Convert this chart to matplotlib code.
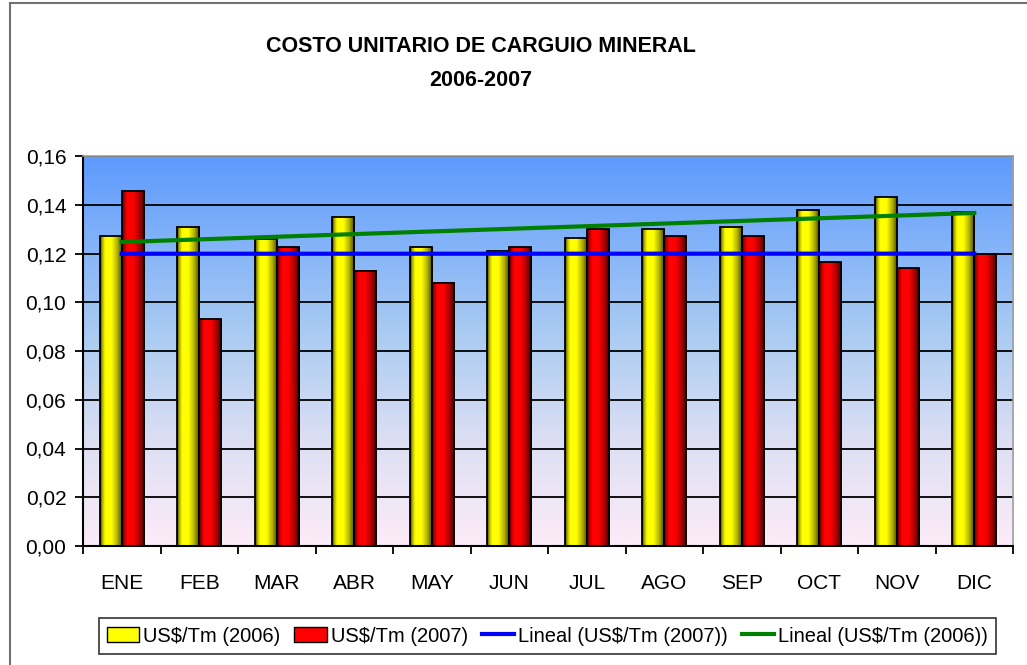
import numpy as np
import matplotlib.pyplot as plt
from matplotlib.patches import Patch
from matplotlib.lines import Line2D
from matplotlib.colors import to_rgb

plt.rcParams['font.family'] = ['Liberation Sans', 'DejaVu Sans']

# valores
meses = ['ENE', 'FEB', 'MAR', 'ABR', 'MAY', 'JUN', 'JUL', 'AGO', 'SEP', 'OCT', 'NOV', 'DIC']
costo_2006 = [0.127, 0.131, 0.126, 0.135, 0.1225, 0.121, 0.1265, 0.130, 0.131, 0.138, 0.143, 0.137]
costo_2007 = [0.1455, 0.093, 0.1225, 0.113, 0.108, 0.1225, 0.130, 0.127, 0.127, 0.1165, 0.114, 0.120]
yticks = [0.00, 0.02, 0.04, 0.06, 0.08, 0.10, 0.12, 0.14, 0.16]


def gradiente(stops, n=64):
    # stops: lista de (pos, color)
    pos = np.array([p for p, _ in stops])
    cols = np.array([to_rgb(c) for _, c in stops])
    t = np.linspace(0, 1, n)
    return np.stack([np.interp(t, pos, cols[:, i]) for i in range(3)], axis=-1)


fig = plt.figure(figsize=(10.27, 6.65), dpi=100)
ax = fig.add_axes([83 / 1027, 119 / 665, 930 / 1027, 390 / 665])

# fondo degradado del area de trazado
fondo = gradiente([(0, '#fcebf8'), (0.25, '#dfe0f4'), (0.55, '#a9cbf2'), (1, '#5e9bfe')])
ax.imshow(fondo[:, None, :], extent=[0, 1, 0, 1], origin='lower', aspect='auto',
          transform=ax.transAxes, zorder=-10, interpolation='bilinear')

x = np.arange(len(meses))
w = 0.285
b06 = ax.bar(x - w / 2, costo_2006, w, facecolor='none', edgecolor='black', lw=1.3, zorder=3)
b07 = ax.bar(x + w / 2, costo_2007, w, facecolor='none', edgecolor='black', lw=1.3, zorder=3)

# sombreado cilindrico de las barras
amarillo = gradiente([(0, '#3c3c00'), (0.1, '#b0b000'), (0.22, '#ffff00'), (0.5, '#ffff00'),
                      (0.75, '#b4b400'), (1, '#404000')])
rojo = gradiente([(0, '#400000'), (0.1, '#b00000'), (0.22, '#ff0000'), (0.5, '#ff0000'),
                  (0.75, '#b00000'), (1, '#400000')])
for barras, grad in ((b06, amarillo), (b07, rojo)):
    for p in barras:
        x0, y0 = p.get_x(), p.get_y()
        ax.imshow(grad[None, :, :], extent=(x0, x0 + p.get_width(), y0, y0 + p.get_height()),
                  aspect='auto', zorder=2.5, interpolation='bilinear')

# lineas de tendencia lineal
c06 = np.polyfit(x, costo_2006, 1)
c07 = np.polyfit(x, costo_2007, 1)
ax.plot(x, np.polyval(c07, x), color='#0000ff', lw=3, zorder=4)
ax.plot(x, np.polyval(c06, x), color='#008000', lw=3, zorder=4)

ax.set_xlim(-0.5, len(meses) - 0.5)
ax.set_ylim(0, 0.16)
ax.set_yticks(yticks)
ax.set_yticklabels([f'{v:.2f}'.replace('.', ',') for v in yticks], fontsize=15)
ax.yaxis.grid(True, color='black', lw=1.3)
ax.set_axisbelow(True)
ax.set_xticks(np.arange(-0.5, len(meses), 1))
ax.set_xticklabels([])
ax.set_xticks(x, minor=True)
ax.set_xticklabels(meses, minor=True, fontsize=15)
ax.tick_params(axis='x', which='major', direction='out', length=6, width=1.3)
ax.tick_params(axis='x', which='minor', length=0, pad=20)
ax.tick_params(axis='y', direction='out', length=6, width=1.3, pad=6)
for s in ('left', 'bottom'):
    ax.spines[s].set_linewidth(1.5)
for s in ('top', 'right'):
    ax.spines[s].set_color('#a0a0a0')
    ax.spines[s].set_linewidth(1.2)

fig.text(0.468, 1 - 46 / 665, 'COSTO UNITARIO DE CARGUIO MINERAL', ha='center', va='center',
         fontsize=15.5, fontweight='bold')
fig.text(0.468, 1 - 80 / 665, '2006-2007', ha='center', va='center', fontsize=15.5, fontweight='bold')

handles = [Patch(facecolor='#ffff00', edgecolor='black'),
           Patch(facecolor='#ff0000', edgecolor='black'),
           Line2D([], [], color='#0000ff', lw=3),
           Line2D([], [], color='#008000', lw=3)]
labels = ['US$/Tm (2006)', 'US$/Tm (2007)', 'Lineal (US$/Tm (2007))', 'Lineal (US$/Tm (2006))']
leg = fig.legend(handles, labels, loc='center', bbox_to_anchor=(0.533, 1 - 636 / 665), ncol=4,
                 fontsize=14.5, frameon=True, fancybox=False, handlelength=1.6,
                 handletextpad=0.2, columnspacing=0.7, borderpad=0.4)
leg.get_frame().set_edgecolor('black')
leg.get_frame().set_linewidth(1.2)

# borde del area del grafico
fig.add_artist(Line2D([10 / 1027, 10 / 1027], [0, 1 - 3 / 665], color='#707070', lw=1.5))
fig.add_artist(Line2D([10 / 1027, 1], [1 - 3 / 665, 1 - 3 / 665], color='#707070', lw=1.5))

fig.savefig('out.png', dpi=100)
